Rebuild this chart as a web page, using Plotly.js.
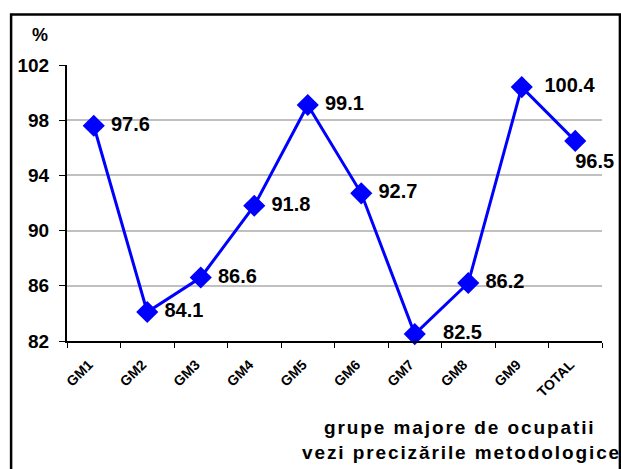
<!DOCTYPE html>
<html><head><meta charset="utf-8">
<script src="https://cdn.plot.ly/plotly-3.0.1.min.js"></script>
<style>body{margin:0;padding:0;background:#fff}
.annotation-text.wide{letter-spacing:1.9px}</style>
</head><body>
<div id="chart" style="width:621px;height:469px"></div>
<script>
const categories = ["GM1","GM2","GM3","GM4","GM5","GM6","GM7","GM8","GM9","TOTAL"];
const values = [97.6, 84.1, 86.6, 91.8, 99.1, 92.7, 82.5, 86.2, 100.4, 96.5];
const yTicks = [82, 86, 90, 94, 98, 102];

// label styling per point (padding in non-breaking spaces, position)
const labelPad = [1, 1, 1, 1, 1, 1, 3, 1, 2, 7];
const labelPositions = ["middle right","middle right","middle right","middle right","middle right","middle right","middle right","middle right","middle right","bottom center"];
const NB = "\u00a0";

const trace = {
  x: categories, y: values, type: "scatter", mode: "lines+markers+text",
  line: {color: "#0000FF", width: 3},
  marker: {symbol: "diamond", size: 17, color: "#0000FF"},
  text: values.map((v, i) => NB.repeat(labelPad[i]) + v.toFixed(1)),
  textposition: labelPositions,
  textfont: {family: "Arial", size: 20, color: "#000", weight: "bold"},
  cliponaxis: false, hoverinfo: "none"
};

const layout = {
  width: 621, height: 469,
  margin: {l: 67, r: 19, t: 65, b: 128},
  paper_bgcolor: "#fff", plot_bgcolor: "#fff",
  showlegend: false,
  font: {family: "Arial", color: "#000"},
  xaxis: {
    type: "category", tickson: "boundaries", ticks: "outside", ticklen: 5, tickcolor: "#000",
    showline: true, linecolor: "#000", linewidth: 2, showgrid: false,
    tickangle: -45, tickfont: {size: 14, family: "Arial", weight: "bold"},
    ticklabelshift: -5, ticklabelstandoff: 8,
    range: [-0.5, categories.length - 0.5], zeroline: false
  },
  yaxis: {
    range: [82, 102], tickvals: yTicks, ticks: "outside", ticklen: 6, tickcolor: "#000",
    showline: true, linecolor: "#000", linewidth: 2, ticklabelstandoff: 6,
    showgrid: true, gridcolor: "#c0c0c0", gridwidth: 2, zeroline: false,
    tickfont: {size: 19, family: "Arial", weight: "bold"}
  },
  annotations: [
    {text: "%", xref: "paper", yref: "paper", x: -0.05, y: 1.11, xanchor: "center", yanchor: "middle",
     showarrow: false, font: {size: 18, weight: "bold"}},
    {text: "grupe majore de ocupatii", xref: "paper", yref: "paper", x: 0.4766, y: -0.315, xanchor: "left", align: "left", yanchor: "middle",
     showarrow: false, font: {size: 19, weight: "bold"}},
    {text: "vezi precizările metodologice", xref: "paper", yref: "paper", x: 0.4355, y: -0.405, xanchor: "left", align: "left", yanchor: "middle",
     showarrow: false, font: {size: 19, weight: "bold"}}
  ],
  shapes: [
    {type: "rect", xref: "paper", yref: "paper", x0: -0.1045, x1: 1.0335, y0: -0.6, y1: 1.183,
     line: {color: "#000", width: 2.5}, fillcolor: "rgba(0,0,0,0)", layer: "below"}
  ]
};

Plotly.newPlot("chart", [trace], layout, {displayModeBar: false, staticPlot: true}).then(gd => {
  gd.querySelectorAll(".annotation-text").forEach((t, i) => { if (i > 0) t.classList.add("wide"); });
});
</script>
</body></html>
